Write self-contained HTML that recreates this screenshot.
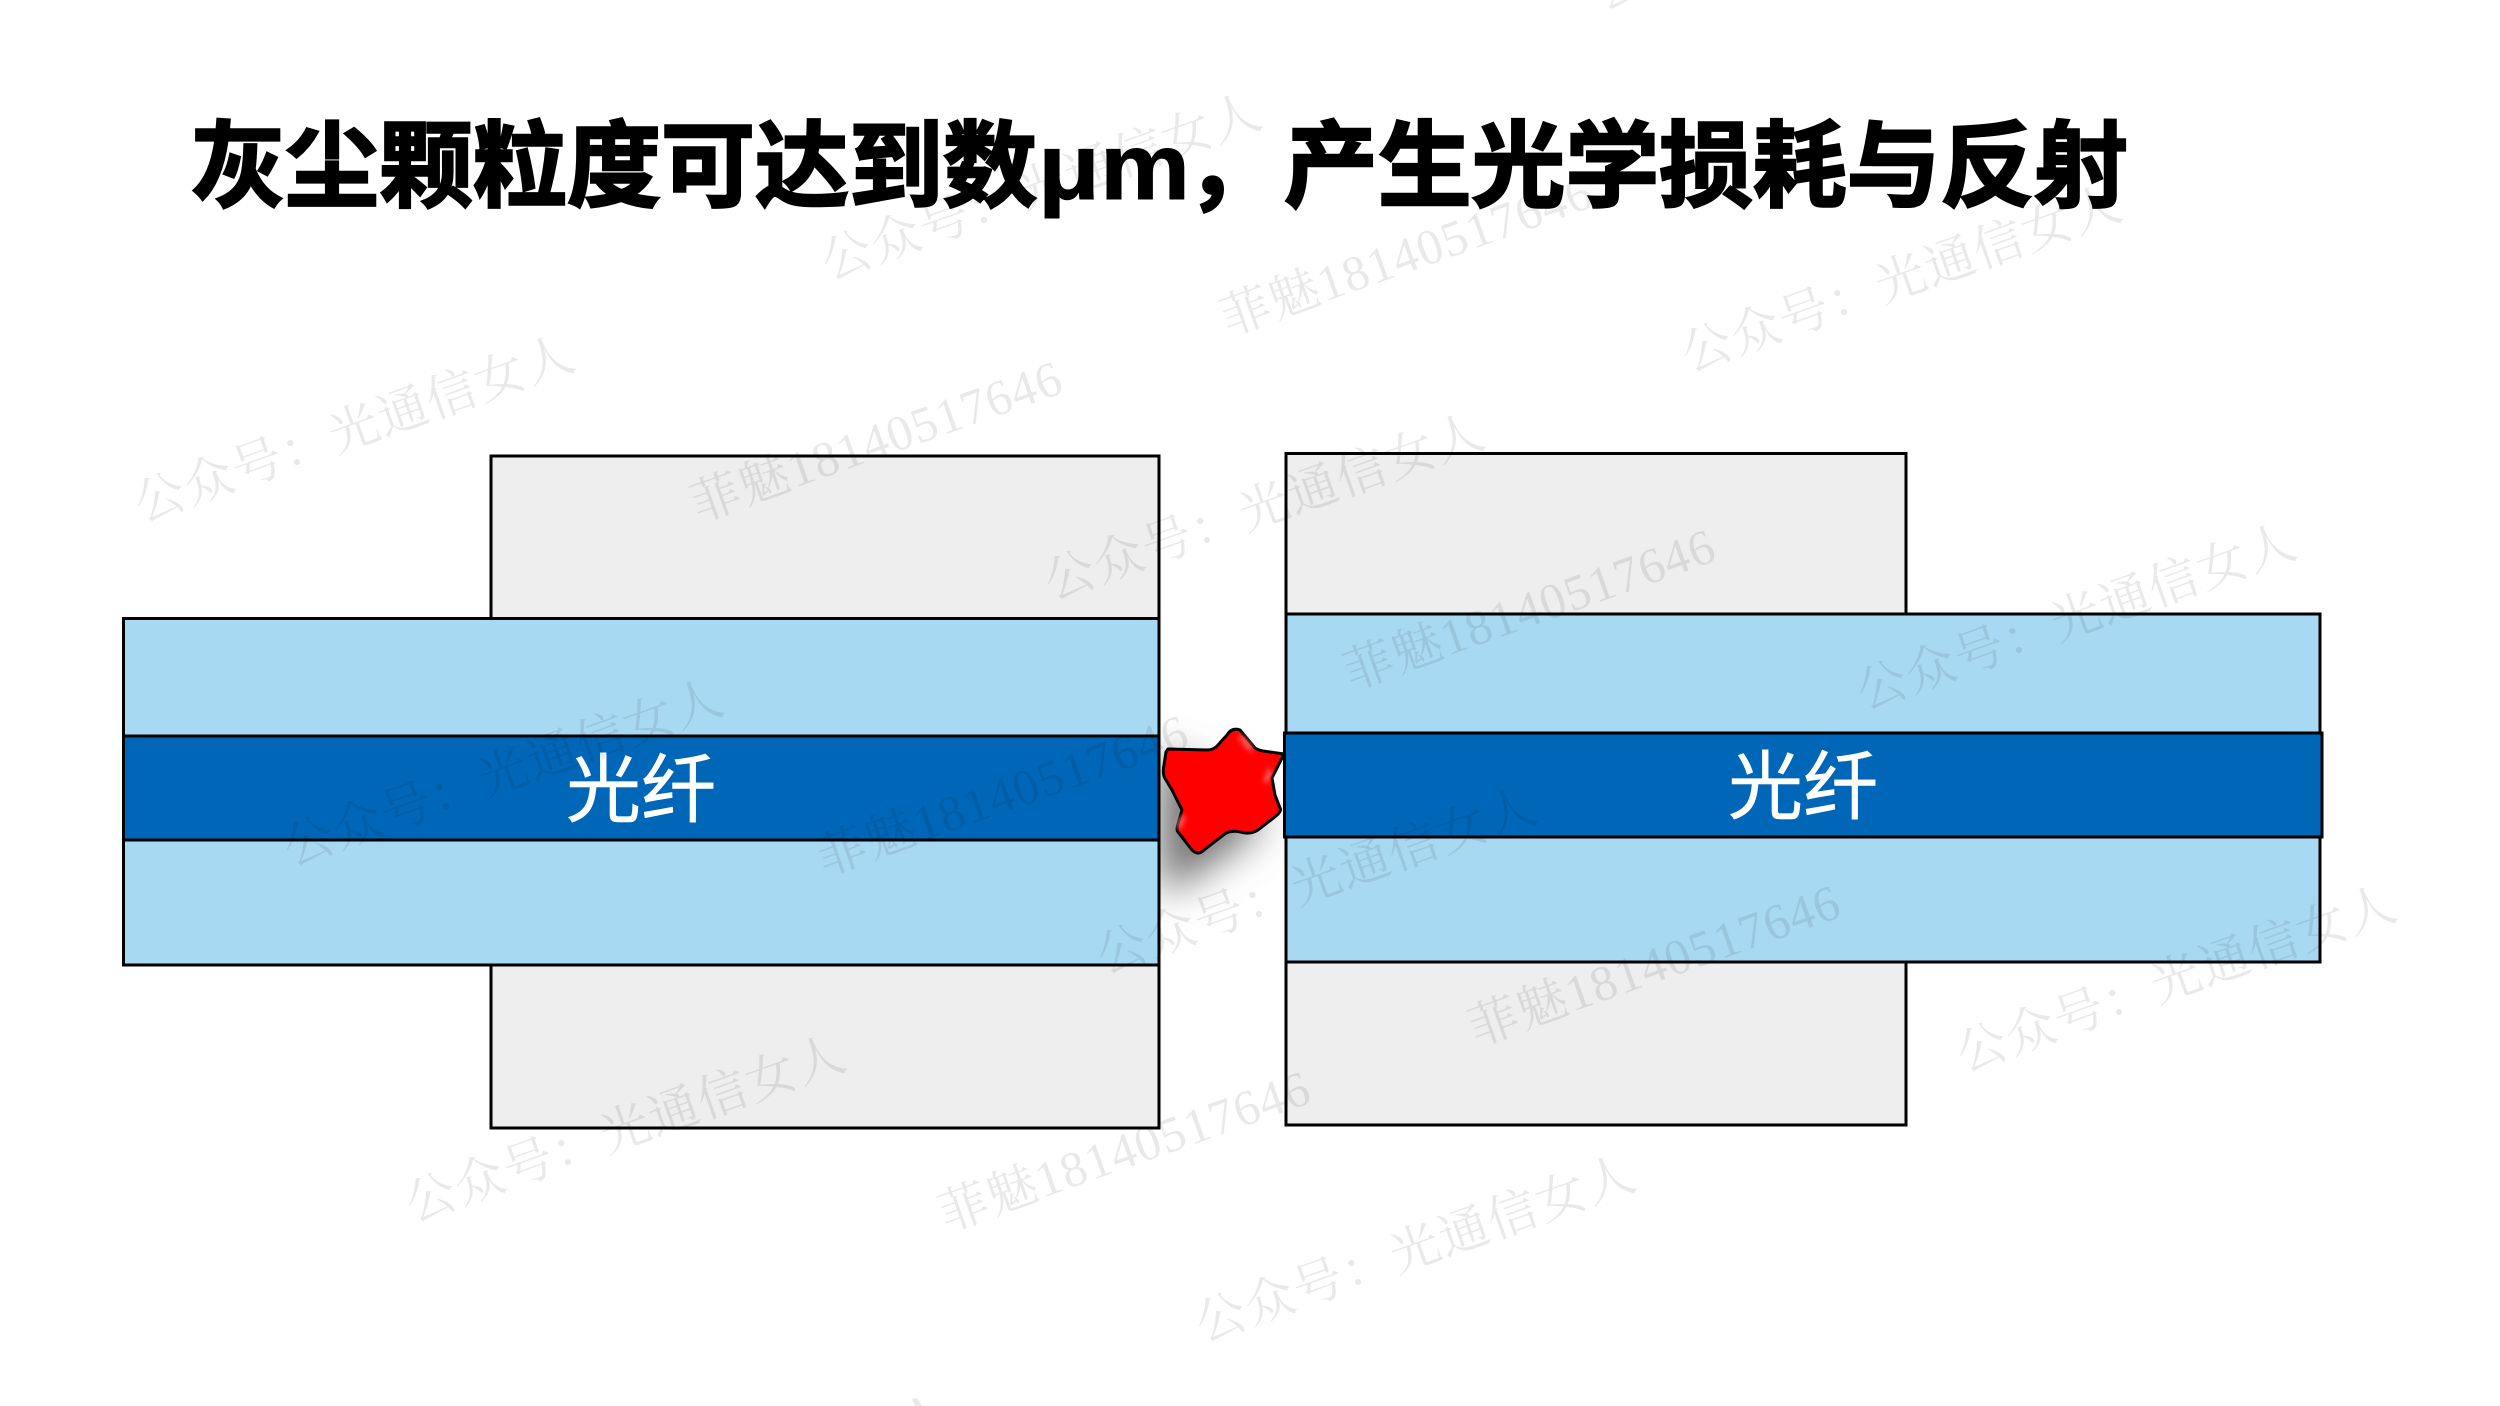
<!DOCTYPE html>
<html lang="zh"><head><meta charset="utf-8"><style>
html,body{margin:0;padding:0;background:#fff;width:2500px;height:1406px;overflow:hidden}
svg{display:block}
.t{font-family:"Liberation Sans","Noto Sans CJK SC",sans-serif;font-weight:700;font-size:94px;fill:#000;stroke:#000;stroke-width:2.5px}
.u{font-family:"Liberation Sans","Noto Sans CJK SC",sans-serif;font-weight:700;font-size:94px;fill:#000;stroke:#000;stroke-width:1px}
.f{font-family:"Liberation Sans","Noto Sans CJK SC",sans-serif;font-size:75px;fill:#fff;stroke:#fff;stroke-width:.6px;text-anchor:middle}
.a{font-family:"Liberation Serif","Noto Serif CJK SC",serif;font-size:50px;fill:#000;fill-opacity:.085;letter-spacing:1.500px}
.b{font-family:"Liberation Serif","Noto Serif CJK SC",serif;font-size:50px;fill:#000;fill-opacity:.085;letter-spacing:1.200px}
</style></head><body>
<svg width="2500" height="1406" viewBox="0 0 2500 1406" xmlns="http://www.w3.org/2000/svg">
<defs>
<filter id="bl" x="-80%" y="-80%" width="260%" height="260%"><feGaussianBlur stdDeviation="20"/></filter>
<filter id="sm" x="-50%" y="-50%" width="200%" height="200%"><feGaussianBlur stdDeviation="3"/></filter>
</defs>
<rect width="2500" height="1406" fill="#fff"/>

<text class="t" x="191" y="199" textLength="846" lengthAdjust="spacingAndGlyphs">灰尘颗粒度可达到数</text>
<text class="u" x="1038" y="199" textLength="152" lengthAdjust="spacingAndGlyphs">μm</text>
<text class="t" x="1186" y="199">，</text>
<text class="t" x="1284" y="199" textLength="844" lengthAdjust="spacingAndGlyphs">产生光学损耗与反射</text>

<path d="M1160 750 L1235 795 L1265 825 L1195 875 L1160 895 Z" fill="#707070" filter="url(#bl)"/>

<g stroke="#000" stroke-width="3">
<rect x="491" y="456" width="668" height="672" fill="#eeeeee"/>
<rect x="123.500" y="618.500" width="1035.500" height="346.500" fill="#a8d9f2"/>
<rect x="123.500" y="736" width="1035.500" height="104" fill="#0066b7"/>
<rect x="1286" y="453.500" width="620" height="671.500" fill="#eeeeee"/>
<rect x="1286" y="614" width="1034" height="348" fill="#a8d9f2"/>
</g>

<path d="M1168 749 L1207 750 Q1214 750 1218 745 L1227 735 Q1232 727 1240 730 L1255 748 Q1258 750 1263 751 L1284 754 L1272 778 L1275 795 L1280 808 Q1282 811 1276 816 L1258 830 Q1250 835 1240 832 Q1233 830 1226 833 L1204 850 Q1198 856 1192 850 L1178 832 Q1176 830 1178 824 L1182 810 L1172 790 L1166 780 Q1162 775 1164 765 L1166 752 Z" fill="#ff0000" stroke="#000" stroke-width="3" stroke-linejoin="round"/>
<path d="M1183 816 L1178 828 M1270 770 L1266 782 M1240 736 L1252 750" stroke="#ff8a8a" stroke-width="4" fill="none" filter="url(#sm)"/>

<rect x="1284.500" y="733" width="1037.500" height="104" fill="#0066b7" stroke="#000" stroke-width="3"/>

<text class="f" x="641" y="816">光纤</text>
<text class="f" x="1803" y="813">光纤</text>

<g>
<text class="a" transform="translate(142 522) rotate(-19.500)">公众号：光通信女人</text>
<text class="a" transform="translate(829 280) rotate(-19.500)">公众号：光通信女人</text>
<text class="a" transform="translate(1052 600) rotate(-19.500)">公众号：光通信女人</text>
<text class="a" transform="translate(1689 372) rotate(-19.500)">公众号：光通信女人</text>
<text class="a" transform="translate(1864 710) rotate(-19.500)">公众号：光通信女人</text>
<text class="a" transform="translate(1964 1072) rotate(-19.500)">公众号：光通信女人</text>
<text class="a" transform="translate(291 866) rotate(-19.500)">公众号：光通信女人</text>
<text class="a" transform="translate(1104 974) rotate(-19.500)">公众号：光通信女人</text>
<text class="a" transform="translate(413 1222) rotate(-19.500)">公众号：光通信女人</text>
<text class="a" transform="translate(1203 1342) rotate(-19.500)">公众号：光通信女人</text>
<text class="a" transform="translate(1602 10) rotate(-19.500)">公众号：光通信女人</text>
</g>
<polygon points="912,1399 917,1398 922,1406 915,1406" fill="#000" fill-opacity=".085"/>
<g>
<text class="b" transform="translate(698 522) rotate(-19.500)">菲魅18140517646</text>
<text class="b" transform="translate(1228 336) rotate(-19.500)">菲魅18140517646</text>
<text class="b" transform="translate(1351 690) rotate(-19.500)">菲魅18140517646</text>
<text class="b" transform="translate(824 876) rotate(-19.500)">菲魅18140517646</text>
<text class="b" transform="translate(1476 1046) rotate(-19.500)">菲魅18140517646</text>
<text class="b" transform="translate(946 1232) rotate(-19.500)">菲魅18140517646</text>
</g>
</svg>
</body></html>
